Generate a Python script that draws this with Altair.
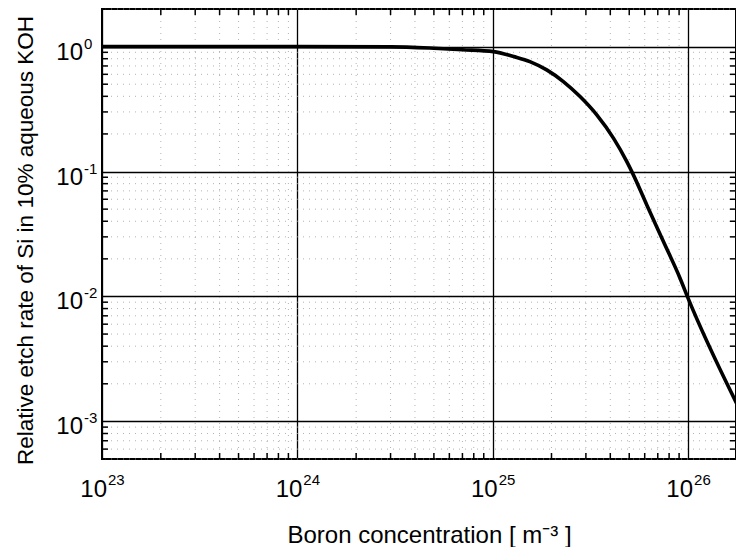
import altair as alt
import pandas as pd

# Boron concentration [m^-3] and relative etch rate
conc = [1e23, 1e24, 3e24, 5e24, 7e24, 1.01e25, 1.28e25, 1.55e25, 1.89e25, 2.30e25,
        2.80e25, 3.41e25, 4.15e25, 4.86e25, 5.25e25, 6.15e25, 7.48e25, 9.1e25,
        1.0e26, 1.89e26]
rate = [1.0, 1.0, 0.995, 0.97, 0.945, 0.912, 0.832, 0.759, 0.651, 0.525,
        0.398, 0.284, 0.185, 0.120, 0.094, 0.054, 0.0275, 0.014,
        0.0097, 0.00114]

x_major = [1e23, 1e24, 1e25, 1e26]
x_exp = ["23", "24", "25", "26"]
y_major = [1e-3, 1e-2, 1e-1, 1e0]
y_exp = ["-3", "-2", "-1", "0"]
x_domain = [1e23, 1.76e26]
y_domain = [5e-4, 2]

x_minor = [m * d for d in x_major for m in range(2, 10) if m * d <= x_domain[1]]
y_minor = [m * d for d in [1e-4] + y_major for m in range(2, 10)
           if y_domain[0] <= m * d <= y_domain[1]]

W, H = 634, 450
FONT = "Liberation Sans"

curve_df = pd.DataFrame({"conc": conc, "rate": rate})
xlab_df = pd.DataFrame({"v": x_major, "e": x_exp, "b": ["10"] * len(x_major)})
ylab_df = pd.DataFrame({"v": y_major, "e": y_exp, "b": ["10"] * len(y_major)})
xminor_df = pd.DataFrame({"v": x_minor})
yminor_df = pd.DataFrame({"v": y_minor})

xscale = alt.Scale(type="log", domain=x_domain, nice=False)
yscale = alt.Scale(type="log", domain=y_domain, nice=False)

curve = alt.Chart(curve_df).mark_line(
    color="black", strokeWidth=3.6, interpolate="monotone", clip=True
).encode(
    x=alt.X("conc:Q", scale=xscale, axis=alt.Axis(
        values=x_major, grid=True, gridColor="black",
        gridWidth=1.3, gridOpacity=1, domain=False, ticks=False, labels=False,
        title="Boron concentration [ m⁻³ ]", titleFont=FONT, titleFontSize=24,
        titleFontWeight="normal", titleColor="black", titleX=327, titleY=83,
        titleAlign="center", titleBaseline="alphabetic")),
    y=alt.Y("rate:Q", scale=yscale, axis=alt.Axis(
        values=y_major, grid=True, gridColor="black",
        gridWidth=1.3, gridOpacity=1, domain=False, ticks=False, labels=False,
        title="Relative etch rate of Si in 10% aqueous KOH", titleFont=FONT,
        titleFontSize=22.5, titleFontWeight="normal", titleColor="black",
        titleAngle=270, titleX=-70, titleY=231, titleAlign="center",
        titleBaseline="alphabetic")),
)

dotted = dict(color="#a0a0a0", strokeWidth=0.8, strokeDash=[1, 5])
xgrid_minor = alt.Chart(xminor_df).mark_rule(**dotted).encode(
    x=alt.X("v:Q", scale=xscale))
ygrid_minor = alt.Chart(yminor_df).mark_rule(**dotted).encode(
    y=alt.Y("v:Q", scale=yscale))

tick = dict(color="black", strokeWidth=1.5)
xt_bot = alt.Chart(xminor_df).mark_rule(**tick).encode(
    x=alt.X("v:Q", scale=xscale), y=alt.value(H), y2=alt.value(H - 6))
xt_top = alt.Chart(xminor_df).mark_rule(**tick).encode(
    x=alt.X("v:Q", scale=xscale), y=alt.value(0), y2=alt.value(6))
yt_left = alt.Chart(yminor_df).mark_rule(**tick).encode(
    y=alt.Y("v:Q", scale=yscale), x=alt.value(0), x2=alt.value(6))
yt_right = alt.Chart(yminor_df).mark_rule(**tick).encode(
    y=alt.Y("v:Q", scale=yscale), x=alt.value(W), x2=alt.value(W - 6))

# tick labels: base "10" plus a raised exponent
xl_base = alt.Chart(xlab_df).mark_text(
    font=FONT, fontSize=24, color="black", align="right", baseline="alphabetic", dx=5
).encode(x=alt.X("v:Q", scale=xscale), y=alt.value(H + 38), text="b:N")
xl_exp = alt.Chart(xlab_df).mark_text(
    font=FONT, fontSize=15, color="black", align="left", baseline="alphabetic", dx=6
).encode(x=alt.X("v:Q", scale=xscale), y=alt.value(H + 26), text="e:N")
yl_base = alt.Chart(ylab_df).mark_text(
    font=FONT, fontSize=24, color="black", align="right", baseline="alphabetic", dy=13
).encode(y=alt.Y("v:Q", scale=yscale), x=alt.value(-19), text="b:N")
yl_exp = alt.Chart(ylab_df).mark_text(
    font=FONT, fontSize=15, color="black", align="left", baseline="alphabetic", dy=2
).encode(y=alt.Y("v:Q", scale=yscale), x=alt.value(-18), text="e:N")

chart = alt.layer(
    xgrid_minor, ygrid_minor, curve, xt_bot, xt_top, yt_left, yt_right,
    xl_base, xl_exp, yl_base, yl_exp
).properties(
    width=W, height=H,
    autosize=alt.AutoSizeParams(type="none"),
    padding={"left": 94, "top": 1, "right": 0, "bottom": 88},
    background="white",
).configure_view(stroke="black", strokeWidth=2)

chart.save("out.html", embed_options={"renderer": "svg", "actions": False})
